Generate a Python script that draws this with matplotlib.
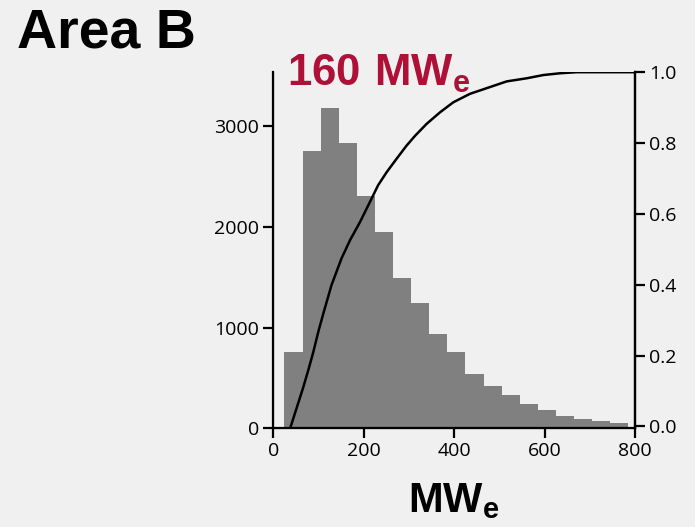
import matplotlib.pyplot as plt
import numpy as np

plt.rcParams['font.family'] = ['Open Sans', 'DejaVu Sans']
plt.rcParams['mathtext.fontset'] = 'custom'
plt.rcParams['mathtext.bf'] = 'Liberation Sans:bold'
plt.rcParams['mathtext.rm'] = 'Liberation Sans'

# histogram of plant sizes (bin edges, width 40 MWe)
bin_edges = [25, 65, 105, 145, 185, 225, 265, 305, 345, 385, 425, 465, 505,
             545, 585, 625, 665, 705, 745, 785]
counts = [753, 2751, 3171, 2827, 2299, 1948, 1490, 1239, 935, 753, 538, 416,
          330, 241, 178, 119, 92, 75, 50]

# cumulative distribution
cdf_x = [39, 52, 66, 78, 89, 100, 111, 129, 151, 170, 192, 214, 232, 251,
         273, 295, 314, 339, 369, 398, 435, 479, 516, 561, 597, 634, 671, 800]
cdf_y = [0.0, 0.052, 0.108, 0.160, 0.211, 0.268, 0.319, 0.399, 0.474, 0.526,
         0.577, 0.634, 0.681, 0.718, 0.756, 0.793, 0.821, 0.854, 0.887, 0.915,
         0.939, 0.958, 0.974, 0.983, 0.992, 0.997, 1.0, 1.0]

bg = '#f0f0f0'
red = '#ae1037'

fig = plt.figure(figsize=(6.95, 5.27), dpi=100, facecolor=bg)
ax = fig.add_axes([0.393, 0.187, 0.521, 0.676], facecolor=bg)

widths = np.diff(bin_edges)
ax.bar(bin_edges[:-1], counts, width=widths, align='edge', color='#808080',
       linewidth=0)

ax.set_xlim(0, 800)
ax.set_ylim(0, 3530)
ax.set_xticks([0, 200, 400, 600, 800])
ax.set_yticks([0, 1000, 2000, 3000])
ax.spines['top'].set_visible(False)
for s in ['left', 'bottom', 'right']:
    ax.spines[s].set_linewidth(1.6)
ax.tick_params(direction='out', length=7, width=1.6, labelsize=14, pad=3)

ax2 = ax.twinx()
ax2.plot(cdf_x, cdf_y, color='black', lw=1.8)
ax2.set_ylim(-0.006, 1.0)
ax2.set_yticks([0, 0.2, 0.4, 0.6, 0.8, 1.0])
ax2.set_yticklabels(['%.1f' % v for v in [0, 0.2, 0.4, 0.6, 0.8, 1.0]])
ax2.spines['top'].set_visible(False)
ax2.spines['right'].set_linewidth(1.6)
ax2.tick_params(direction='out', length=7, width=1.6, labelsize=14, pad=3)

ax.set_xlabel(r'$\mathbf{MW_e}$', fontsize=30, labelpad=14)

fig.text(0.025, 0.909, 'Area B', fontsize=40, fontweight='bold',
         family='Liberation Sans', color='black')
fig.text(0.413, 0.838, r'$\mathbf{160\ MW_e}$', fontsize=31.5, color=red)

fig.savefig('out.png', dpi=100, facecolor=bg)
